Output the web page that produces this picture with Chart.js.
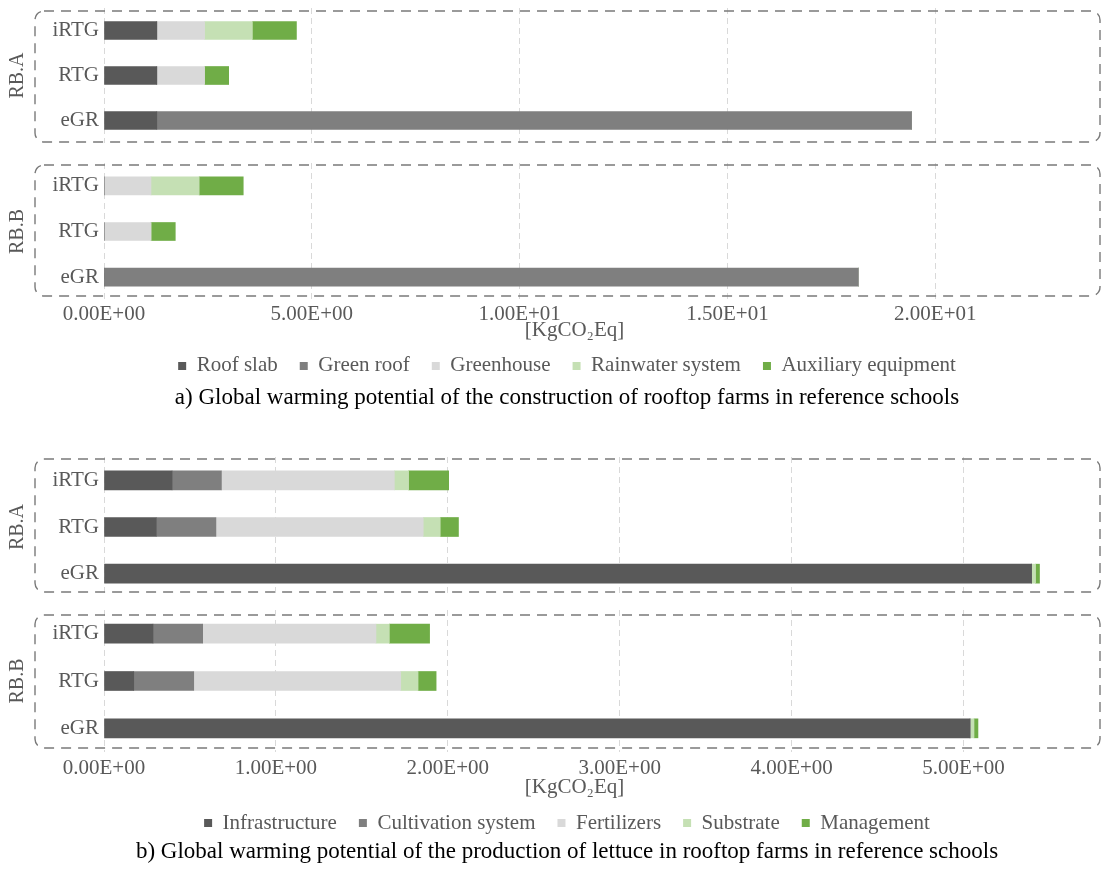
<!DOCTYPE html>
<html>
<head>
<meta charset="utf-8">
<title>Global warming potential of rooftop farms</title>
<script src="https://cdn.jsdelivr.net/npm/chart.js@4.4.1/dist/chart.umd.min.js"></script>
<style>
  html, body { margin: 0; padding: 0; background: #ffffff; }
  #page { position: relative; width: 1102px; height: 870px; overflow: hidden; }
  #page canvas { position: absolute; left: 0; }
</style>
</head>
<body>
<div id="page">
  <canvas id="constructionA" width="1134" height="150" style="top:0px"></canvas>
  <canvas id="constructionB" width="1134" height="256" style="top:155px"></canvas>
  <canvas id="productionA" width="1134" height="155" style="top:449px"></canvas>
  <canvas id="productionB" width="1134" height="268" style="top:602px"></canvas>
</div>
<script>
// ---- Categories and series ----
const rowLabels = ['iRTG', 'RTG', 'eGR'];
const groupLabels = ['RB.A', 'RB.B'];
const constructionItems = ['Roof slab', 'Green roof', 'Greenhouse', 'Rainwater system', 'Auxiliary equipment'];
const productionItems = ['Infrastructure', 'Cultivation system', 'Fertilizers', 'Substrate', 'Management'];

// ---- a) Construction of rooftop farms [kg CO2 eq], rows: iRTG, RTG, eGR ----
const conA_roofSlab   = [1.27, 1.27, 1.27];
const conA_greenRoof  = [0, 0, 18.16];
const conA_greenhouse = [1.15, 1.15, 0];
const conA_rainwater  = [1.15, 0, 0];
const conA_auxiliary  = [1.06, 0.58, 0];

const conB_roofSlab   = [0, 0, 0];
const conB_greenRoof  = [0, 0, 18.15];
const conB_greenhouse = [1.13, 1.13, 0];
const conB_rainwater  = [1.16, 0, 0];
const conB_auxiliary  = [1.06, 0.585, 0];

// ---- b) Production of lettuce [kg CO2 eq], rows: iRTG, RTG, eGR ----
const proA_infrastructure = [0.396, 0.304, 5.396];
const proA_cultivation    = [0.287, 0.347, 0];
const proA_fertilizers    = [1.006, 1.206, 0];
const proA_substrate      = [0.083, 0.099, 0.023];
const proA_management     = [0.233, 0.106, 0.023];

const proB_infrastructure = [0.285, 0.173, 5.038];
const proB_cultivation    = [0.289, 0.349, 0];
const proB_fertilizers    = [1.008, 1.204, 0];
const proB_substrate      = [0.078, 0.101, 0.023];
const proB_management     = [0.234, 0.105, 0.023];

// ---- Axis ticks and ranges ----
const constructionTicks = [0, 5, 10, 15, 20];
const productionTicks = [0, 1, 2, 3, 4, 5];
const constructionMax = 22.64;
const productionMax = 5.474;
const axisTitle = '[KgCO\u2082Eq]';
const captionA = 'a) Global warming potential of the construction of rooftop farms in reference schools';
const captionB = 'b) Global warming potential of the production of lettuce in rooftop farms in reference schools';

// ---- Styling ----
const seriesColors = ['#595959', '#7f7f7f', '#d9d9d9', '#c5e0b4', '#70ad47'];
const SERIF = "'Liberation Serif', 'Times New Roman', serif";
const TEXT_GREY = '#595959';
const PLOT_LEFT = 104;    // width reserved for row labels and group title
const PLOT_RIGHT_GAP = 89; // empty margin right of the plot area
Chart.defaults.font.family = SERIF;
Chart.defaults.color = TEXT_GREY;

// Excel-like scientific notation: 1.00E+01
function sci(v) {
  const parts = Number(v).toExponential(2).split('e');
  const exp = parseInt(parts[1], 10);
  return parts[0] + 'E' + (exp < 0 ? '-' : '+') + String(Math.abs(exp)).padStart(2, '0');
}

// Dashed rounded frame around each reference-building group
const groupFrame = {
  id: 'groupFrame',
  beforeDatasetsDraw(chart, args, opts) {
    if (!opts || opts.top === undefined) return;
    const ctx = chart.ctx;
    ctx.save();
    ctx.strokeStyle = opts.color;
    ctx.lineWidth = opts.width;
    ctx.setLineDash(opts.dash);
    ctx.beginPath();
    ctx.roundRect(opts.left, opts.top, opts.right - opts.left, opts.bottom - opts.top, opts.radius);
    ctx.stroke();
    ctx.restore();
  }
};

function buildChart(id, p) {
  const datasets = p.items.map((name, i) => ({
    label: name,
    data: p.values[i],
    backgroundColor: seriesColors[i],
    borderWidth: 0,
    barThickness: p.barThickness,
    stack: 'total',
    yAxisID: 'y'
  }));
  return new Chart(document.getElementById(id), {
    type: 'bar',
    data: { labels: rowLabels, datasets },
    plugins: [groupFrame],
    options: {
      indexAxis: 'y',
      responsive: false,
      animation: false,
      devicePixelRatio: 1,
      layout: { padding: { top: 8, bottom: p.bottomPad, left: 0, right: 0 } },
      scales: {
        x: {
          type: 'linear',
          stacked: true,
          min: 0,
          max: p.max,
          afterBuildTicks: (scale) => { scale.ticks = p.ticks.map(v => ({ value: v })); },
          grid: { color: '#d9d9d9', lineWidth: 1, drawTicks: false },
          border: { display: false, dash: [6, 4] },
          ticks: {
            display: p.showAxis,
            padding: p.tickPad || 0,
            color: TEXT_GREY,
            font: { size: 21, lineHeight: 0.8 },
            callback: (v) => sci(v)
          },
          title: {
            display: p.showAxis,
            text: axisTitle,
            color: TEXT_GREY,
            font: { size: 21, lineHeight: 0.8 },
            padding: p.titlePad
          }
        },
        y: {
          type: 'category',
          position: 'left',
          stacked: true,
          grid: { display: false, drawTicks: false },
          border: { display: false },
          afterFit: (scale) => { scale.width = PLOT_LEFT; },
          ticks: { padding: 5, color: TEXT_GREY, font: { size: 21, lineHeight: 0.05 } },
          title: {
            display: true,
            text: p.group,
            color: TEXT_GREY,
            font: { size: 20, lineHeight: 1.2 },
            padding: { top: 6, bottom: 0 }
          }
        },
        // blank margin on the right of the plot area
        yMargin: {
          type: 'category',
          axis: 'y',
          position: 'right',
          grid: { display: false, drawTicks: false },
          border: { display: false },
          ticks: { display: false },
          afterFit: (scale) => { scale.width = PLOT_RIGHT_GAP; }
        }
      },
      plugins: {
        legend: {
          display: p.showAxis,
          position: 'bottom',
          labels: {
            boxWidth: 8,
            boxHeight: 8,
            padding: 22,
            color: TEXT_GREY,
            font: { size: 21 }
          }
        },
        title: {
          display: p.showAxis,
          position: 'bottom',
          text: p.caption || '',
          color: '#000000',
          font: { size: 23, weight: 'normal', lineHeight: 1 },
          padding: p.captionPad || { top: 0, bottom: 0 }
        },
        tooltip: { enabled: false },
        groupFrame: {
          left: 35, right: 1100, top: p.frameTop, bottom: p.frameBottom,
          radius: 9, color: '#7a7a7a', width: 1.4, dash: [10, 7]
        }
      }
    }
  });
}

// a) construction
buildChart('constructionA', {
  group: groupLabels[0], items: constructionItems,
  values: [conA_roofSlab, conA_greenRoof, conA_greenhouse, conA_rainwater, conA_auxiliary],
  max: constructionMax, ticks: constructionTicks, barThickness: 18, showAxis: false,
  bottomPad: 7, frameTop: 11, frameBottom: 142
});
buildChart('constructionB', {
  group: groupLabels[1], items: constructionItems,
  values: [conB_roofSlab, conB_greenRoof, conB_greenhouse, conB_rainwater, conB_auxiliary],
  max: constructionMax, ticks: constructionTicks, barThickness: 18, showAxis: true,
  bottomPad: 0, frameTop: 10, frameBottom: 141, tickPad: 6,
  titlePad: { top: -7.2, bottom: -5 },
  caption: captionA, captionPad: { top: 0, bottom: 1.6 }
});

// b) production of lettuce
buildChart('productionA', {
  group: groupLabels[0], items: productionItems,
  values: [proA_infrastructure, proA_cultivation, proA_fertilizers, proA_substrate, proA_management],
  max: productionMax, ticks: productionTicks, barThickness: 19, showAxis: false,
  bottomPad: 7, frameTop: 10, frameBottom: 143
});
buildChart('productionB', {
  group: groupLabels[1], items: productionItems,
  values: [proB_infrastructure, proB_cultivation, proB_fertilizers, proB_substrate, proB_management],
  max: productionMax, ticks: productionTicks, barThickness: 19, showAxis: true,
  bottomPad: 0, frameTop: 13, frameBottom: 146, tickPad: 8,
  titlePad: { top: -6.2, bottom: -4.9 },
  caption: captionB, captionPad: { top: -3, bottom: 6.5 }
});
</script>
</body>
</html>
